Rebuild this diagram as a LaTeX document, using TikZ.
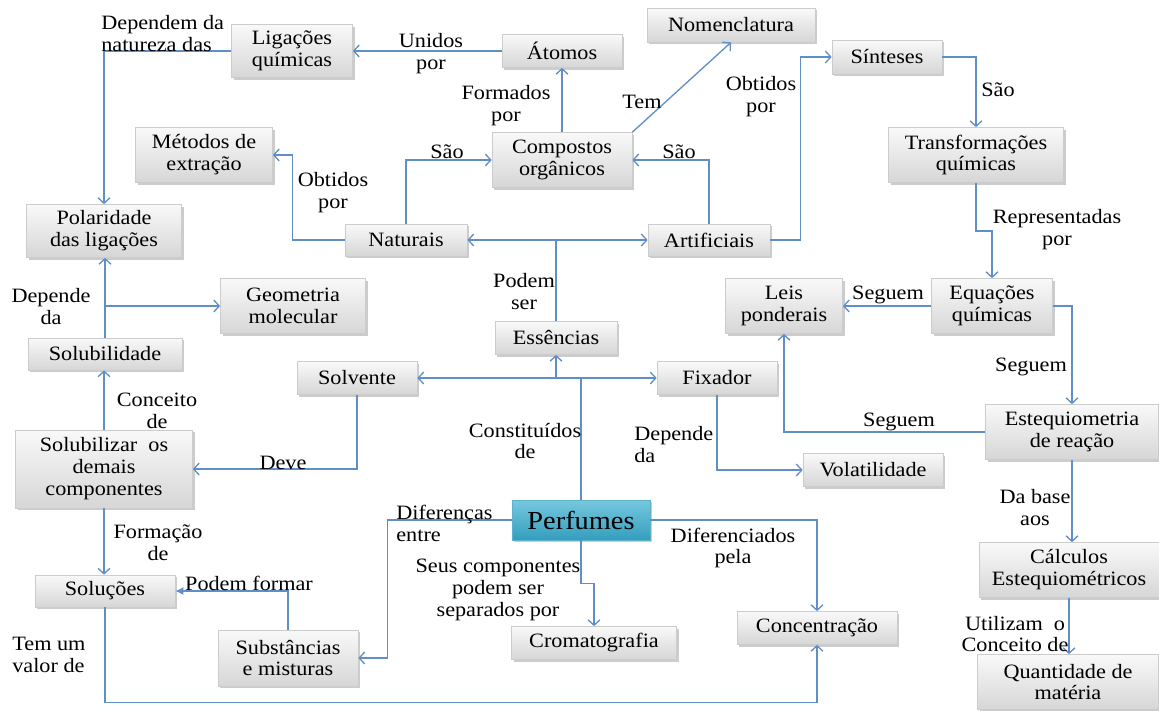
\documentclass[tikz,border=0pt]{standalone}
\usepackage{fontspec}
\setmainfont{Liberation Serif}[FakeStretch=1.09]
\usetikzlibrary{positioning,arrows.meta,shadows}
\definecolor{linkblue}{RGB}{96,142,200}
\definecolor{perfTop}{RGB}{118,200,222}
\definecolor{perfBot}{RGB}{52,158,190}
\tikzset{
  box/.style={rectangle,draw=gray!40,top color=gray!5,bottom color=gray!32,align=center,inner sep=1pt,
    drop shadow={shadow xshift=1.4pt,shadow yshift=-1.4pt,opacity=0.4}},
  lbl/.style={align=center,inner sep=0pt},
  link/.style={draw=linkblue,line width=0.75pt,-{Straight Barb[length=1.1mm,width=2.4mm]}},
}

\begin{document}
\begin{tikzpicture}[x=0.02cm,y=-0.02cm,font=\fontsize{11.6}{12.5}\selectfont]
  \useasboundingbox (0,0) rectangle (1159,710);
  % boxes
  \node[box,minimum width=2.42cm,minimum height=1.06cm] (lig) at (292,51) {Ligações\\químicas};
  \node[box,minimum width=2.40cm,minimum height=0.66cm] (atom) at (562,51) {Átomos};
  \node[box,minimum width=3.36cm,minimum height=0.68cm] (nomen) at (731,25) {Nomenclatura};
  \node[box,minimum width=2.20cm,minimum height=0.68cm] (sint) at (887,57) {Sínteses};
  \node[box,minimum width=2.74cm,minimum height=1.10cm] (metod) at (204,155) {Métodos de\\extração};
  \node[box,minimum width=2.80cm,minimum height=1.10cm] (comp) at (562,160) {Compostos\\orgânicos};
  \node[box,minimum width=3.50cm,minimum height=1.10cm] (transf) at (976,155) {Transformações\\químicas};
  \node[box,minimum width=3.10cm,minimum height=1.06cm] (polar) at (104,231) {Polaridade\\das ligações};
  \node[box,minimum width=2.44cm,minimum height=0.64cm] (nat) at (406,240) {Naturais};
  \node[box,minimum width=2.44cm,minimum height=0.64cm] (art) at (709,240) {Artificiais};
  \node[box,minimum width=2.90cm,minimum height=1.10cm] (geom) at (293,306) {Geometria\\molecular};
  \node[box,minimum width=2.34cm,minimum height=1.10cm] (leis) at (784,306) {Leis\\ponderais};
  \node[box,minimum width=2.42cm,minimum height=1.10cm] (equac) at (992,306) {Equações\\químicas};
  \node[box,minimum width=2.44cm,minimum height=0.66cm] (essen) at (556,338) {Essências};
  \node[box,minimum width=3.08cm,minimum height=0.64cm] (solub) at (105,354) {Solubilidade};
  \node[box,minimum width=2.40cm,minimum height=0.66cm] (solv) at (357,378) {Solvente};
  \node[box,minimum width=2.40cm,minimum height=0.66cm] (fix) at (717,378) {Fixador};
  \node[box,minimum width=3.46cm,minimum height=1.10cm] (esteq) at (1072,432) {Estequiometria\\de reação};
  \node[box,minimum width=3.54cm,minimum height=1.56cm] (solz) at (104,469) {Solubilizar~ os\\demais\\componentes};
  \node[box,minimum width=2.80cm,minimum height=0.66cm] (volat) at (873,470) {Volatilidade};
  \node[box,draw=perfBot!80,top color=perfTop,bottom color=perfBot,minimum width=2.76cm,minimum height=0.80cm,
    font=\fontsize{14.8}{16}\selectfont] (perf) at (581,520) {Perfumes};
  \node[box,minimum width=3.60cm,minimum height=1.10cm] (calc) at (1069,570) {Cálculos\\Estequiométricos};
  \node[box,minimum width=2.80cm,minimum height=0.64cm] (sol) at (105,591) {Soluções};
  \node[box,minimum width=3.30cm,minimum height=0.66cm] (croma) at (594,643) {Cromatografia};
  \node[box,minimum width=3.20cm,minimum height=0.66cm] (concen) at (817,628) {Concentração};
  \node[box,minimum width=2.80cm,minimum height=1.12cm] (subst) at (288,658) {Substâncias\\e misturas};
  \node[box,minimum width=3.62cm,minimum height=1.10cm] (quant) at (1068,682) {Quantidade de\\matéria};

  % junction points
  \coordinate (essUp) at (essen.north |- nat.east);
  \coordinate (perfUp) at (perf.north |- solv.east);
  \coordinate (geoBr) at (solub.north |- geom.west);

  % connectors
  \draw[link] (atom.west) -- (lig.east);
  \draw[link] (lig.west) -| (polar.north);
  \draw[link] (comp.north) -- (atom.south);
  \draw[link] (comp.north east) -- (nomen.south);
  \draw[link] (nat.north) |- (comp.west);
  \draw[link] (art.north) |- (comp.east);
  \draw[link] (nat.west) -- ++(-52,0) |- (metod.east);
  \draw[link] (art.east) -- ++(30,0) |- (sint.west);
  \draw[link] (sint.east) -| (transf.north);
  \draw[link] (transf.south) -- ++(0,48) -| (equac.north);
  \draw[link] (equac.west) -- (leis.east);
  \draw[link] (equac.east) -| (esteq.north);
  \draw[link] (esteq.west) -| (leis.south);
  \draw[link] (esteq.south) -- (esteq.south |- calc.north);
  \draw[link] (calc.south) -- (calc.south |- quant.north);
  \draw[link] (essen.north) -- (essUp) -- (nat.east);
  \draw[link] (essUp) -- (art.west);
  \draw[link] (perf.north) -- (perfUp) -- (solv.east);
  \draw[link] (perfUp) -- (fix.west);
  \draw[link] (perfUp) -| (essen.south);
  \draw[link] (fix.south) |- (volat.west);
  \draw[link] (solv.south) |- (solz.east);
  \draw[link] (solz.north) -- (solz.north |- solub.south);
  \draw[link] (solub.north) -- (solub.north |- polar.south);
  \draw[link] (geoBr) -- (geom.west);
  \draw[link] (solz.south) -- (solz.south |- sol.north);
  \draw[link,-{Latex[length=1.6mm,width=1.6mm]}] (subst.north) |- (sol.east);
  \draw[link] (sol.south) -- ++(0,95) -| (concen.south);
  \draw[link] (perf.west) -- ++(-124,0) |- (subst.east);
  \draw[link] (perf.east) -| (concen.north);
  \draw[link] (perf.south) -- ++(0,43) -| (croma.north);

  % labels
  \node[lbl] (tUnidos) at (431,54) {Unidos\\por};
  \node[lbl,align=left,anchor=west] (tDependem) at (101,34) {Dependem da\\natureza das};
  \node[lbl] (tFormados) at (506,106) {Formados\\por};
  \node[lbl] (tTem) at (642,102) {Tem};
  \node[lbl] (tSaoN) at (447,152) {São};
  \node[lbl] (tSaoA) at (679,152) {São};
  \node[lbl] (tObtN) at (333,193) {Obtidos\\por};
  \node[lbl] (tObtA) at (761,97) {Obtidos\\por};
  \node[lbl] (tSaoS) at (998,90) {São};
  \node[lbl] (tRepr) at (1057,230) {Representadas\\por};
  \node[lbl] (tSegL) at (888,295) {Seguem};
  \node[lbl] (tSegE) at (1031,367) {Seguem};
  \node[lbl] (tSegS) at (899,422) {Seguem};
  \node[lbl] (tBase) at (1035,508) {Da base\\aos};
  \node[lbl] (tUtil) at (1015,634) {Utilizam~ o\\Conceito de};
  \node[lbl] (tPodem) at (524,292) {Podem\\ser};
  \node[lbl] (tConst) at (525,441) {Constituídos\\de};
  \node[lbl,align=left,anchor=west] (tDepF) at (634,445) {Depende\\da};
  \node[lbl] (tDeve) at (283,463) {Deve};
  \node[lbl] (tConc) at (157,411) {Conceito\\de};
  \node[lbl] (tDepS) at (51,307) {Depende\\da};
  \node[lbl] (tForm) at (158,543) {Formação\\de};
  \node[lbl] (tPForm) at (249,583) {Podem formar};
  \node[lbl,align=left,anchor=west] (tValor) at (12,655) {Tem um\\valor de};
  \node[lbl,align=left,anchor=west] (tDifer) at (396,523) {Diferenças\\entre};
  \node[lbl] (tDifP) at (733,548) {Diferenciados\\pela};
  \node[lbl] (tSeus) at (498,590) {Seus componentes\\podem ser\\separados por};
\end{tikzpicture}
\end{document}
